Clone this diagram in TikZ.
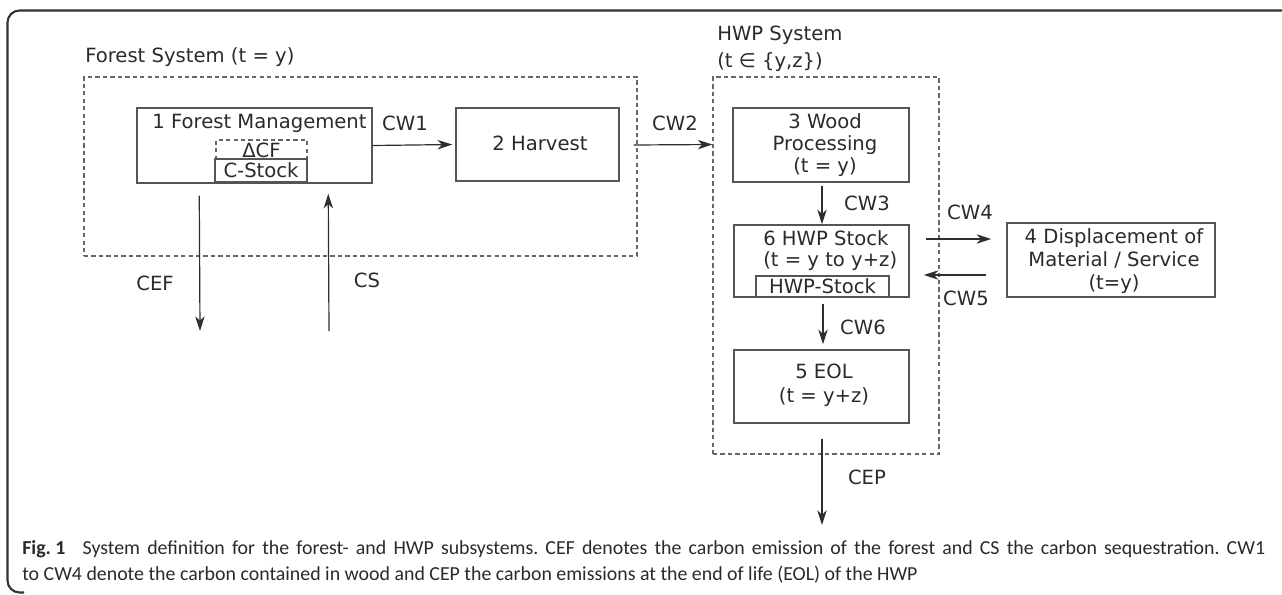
\documentclass[tikz,border=0pt]{standalone}
\usepackage{fontspec}
\setmainfont{DejaVu Sans}
\newfontfamily\capfont{Carlito}
\usetikzlibrary{arrows.meta,calc}
\definecolor{txt}{HTML}{2A2A2A}
\definecolor{ln}{HTML}{555555}
\definecolor{arr}{HTML}{2E2E2E}
\definecolor{dsh}{HTML}{666666}
\definecolor{frm}{HTML}{333333}
\tikzset{
  lbl/.style={inner sep=0pt, text=txt, font=\fontsize{14.7}{17}\selectfont},
  boxa/.style={draw=ln, line width=1.1pt, inner sep=0pt},
  sysbox/.style={draw=dsh, line width=0.8pt, dash pattern=on 3.2pt off 2.4pt, inner sep=0pt},
  flow/.style={draw=arr, line width=0.9pt, -{Stealth[length=11pt,width=7pt,inset=3.3pt]}},
}
\begin{document}
\begin{tikzpicture}[x=0.75pt,y=-0.75pt]
\useasboundingbox (0,0) rectangle (1282,594);
% frame
\draw[frm, line width=1.6pt, rounded corners=9pt] (1282,10.5) -- (7.5,10.5) -- (7.5,592.5) -- (24,592.5);

% system boxes
\node[sysbox, minimum width=553*0.75pt, minimum height=179*0.75pt] (fsys) at (360.5,166.5) {};
\node[sysbox, minimum width=226*0.75pt, minimum height=377*0.75pt] (hsys) at (826,265.5) {};
\node[lbl, anchor=west] (fsl) at (85,57) {Forest System (t = y)};
\node[lbl, anchor=west] (hsl1) at (717,35) {HWP System};
\node[lbl, anchor=west] (hsl2) at (717,62) {(t ∈ \{y,z\})};

% box 1
\node[boxa, minimum width=235*0.75pt, minimum height=75*0.75pt] (fm) at (254.5,145.5) {};
\node[lbl] (fmt) at (259.5,123) {1 Forest Management};
\node[sysbox, minimum width=91*0.75pt, minimum height=19*0.75pt] (dcf) at (261.5,149.5) {};
\node[lbl] (dcft) at (261.5,150) {ΔCF};
\node[boxa, line width=0.9pt, lbl, minimum width=92*0.75pt, minimum height=23*0.75pt] (cst) at (261,170.5) {C-Stock};

% box 2
\node[boxa, minimum width=163*0.75pt, minimum height=73*0.75pt] (hv) at (537.5,144.5) {};
\node[lbl] (hvt) at (540,143) {2 Harvest};

% box 3
\node[boxa, minimum width=176*0.75pt, minimum height=74*0.75pt] (wp) at (821,145) {};
\node[lbl, align=center, font=\fontsize{14.7}{16.5}\selectfont] (wpt) at (825,145) {3 Wood\\Processing\\(t = y)};

% box 6
\node[boxa, minimum width=175*0.75pt, minimum height=72*0.75pt] (hs) at (821.5,261) {};
\node[lbl, anchor=west] (hst1) at (763,238) {6 HWP Stock};
\node[lbl, anchor=west] (hst2) at (763,261) {(t = y to y+z)};
\node[boxa, line width=0.9pt, lbl, minimum width=133*0.75pt, minimum height=21*0.75pt] (hstk) at (822.5,286.5) {HWP-Stock};

% box 4
\node[boxa, minimum width=208*0.75pt, minimum height=74*0.75pt] (dm) at (1111,260) {};
\node[lbl, align=center, font=\fontsize{14.7}{17.5}\selectfont] (dmt) at (1114,261) {4 Displacement of\\Material / Service\\(t=y)};

% box 5
\node[boxa, minimum width=175*0.75pt, minimum height=73*0.75pt] (eol) at (821.5,386.5) {};
\node[lbl, align=center, font=\fontsize{14.7}{18}\selectfont] (eolt) at (824,385) {5 EOL\\(t = y+z)};

% connectors
\draw[flow] (fm.east) -- ($(hv.west)+(-3,0)$);
\node[lbl] (cw1) at (405,123) {CW1};
\draw[flow] ($(hv.east)+(14,0.5)$) -- (hv.east -| hsys.west);
\node[lbl] (cw2) at (675,123) {CW2};
\draw[flow] ($(wp.south)+(1,3)$) -- ($(hs.north)+(0.5,0)$);
\node[lbl] (cw3) at (867,203) {CW3};
\draw[flow] ($(hs.east)+(16,-22)$) -- ($(dm.west)+(-15,-21)$);
\node[lbl] (cw4) at (970,212) {CW4};
\draw[flow] ($(dm.west)+(-20,15)$) -- ($(hs.east)+(14,14)$);
\node[lbl] (cw5) at (966,298) {CW5};
\draw[flow] ($(hs.south)+(1.5,6)$) -- ($(eol.north)+(1.5,-5)$);
\node[lbl] (cw6) at (863,327) {CW6};
\coordinate (cepend) at (822,525);
\draw[flow] ($(eol.south)+(0.5,15)$) -- (cepend);
\node[lbl] (cep) at (867,477) {CEP};
\coordinate (cefend) at (200,331);
\draw[flow] ($(fm.south west)+(63,12)$) -- (cefend);
\node[lbl] (cef) at (155,283) {CEF};
\coordinate (csbot) at (329,331);
\draw[flow] (csbot) -- ($(fm.south west)+(192,10)$);
\node[lbl] (cs) at (367,280) {CS};

% caption
\node[anchor=north west, inner sep=0pt, text width=1243*0.75pt, align=justify, text=txt,
      font=\capfont\fontsize{14.9}{19.5}\selectfont] (cap) at (22,540.5)
 {\frenchspacing\mbox{\textbf{Fig.\ 1}}\hspace{0.5em} System definition for the forest- and HWP subsystems. CEF denotes the carbon emission of the forest and CS the carbon sequestration. CW1\linebreak to CW4 denote the carbon contained in wood and CEP the carbon emissions at the end of life (EOL) of the HWP};
\end{tikzpicture}
\end{document}
